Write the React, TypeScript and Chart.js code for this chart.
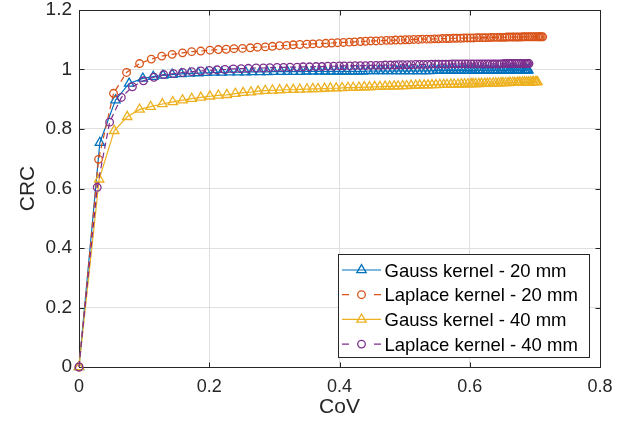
import React, { useEffect, useRef } from "react";
import { Chart, registerables } from "chart.js";

Chart.register(...registerables);

// ---------- data ----------
const seriesLabels = [
  "Gauss kernel - 20 mm",
  "Laplace kernel - 20 mm",
  "Gauss kernel - 40 mm",
  "Laplace kernel - 40 mm",
];

const xTicks = [0, 0.2, 0.4, 0.6, 0.8];
const yTicks = [0, 0.2, 0.4, 0.6, 0.8, 1, 1.2];

const gauss20CoV = [0, 0.032, 0.056, 0.077, 0.098, 0.114, 0.129, 0.143, 0.157, 0.170, 0.183, 0.196, 0.208, 0.219, 0.231, 0.244, 0.256, 0.266, 0.278, 0.289, 0.299, 0.310, 0.320, 0.329, 0.340, 0.349, 0.359, 0.369, 0.378, 0.387, 0.396, 0.404, 0.411, 0.420, 0.428, 0.436, 0.444, 0.452, 0.460, 0.467, 0.474, 0.481, 0.488, 0.494, 0.500, 0.507, 0.513, 0.520, 0.526, 0.532, 0.538, 0.544, 0.550, 0.554, 0.560, 0.565, 0.570, 0.575, 0.580, 0.585, 0.590, 0.595, 0.599, 0.604, 0.608, 0.613, 0.616, 0.620, 0.624, 0.628, 0.632, 0.636, 0.639, 0.643, 0.647, 0.650, 0.654, 0.657, 0.661, 0.663, 0.666, 0.669, 0.672, 0.675, 0.678, 0.681, 0.684, 0.686, 0.688, 0.689, 0.690];
const gauss20CRC = [0, 0.754, 0.897, 0.953, 0.970, 0.976, 0.980, 0.983, 0.985, 0.987, 0.988, 0.989, 0.990, 0.990, 0.991, 0.991, 0.991, 0.992, 0.992, 0.992, 0.993, 0.993, 0.993, 0.993, 0.993, 0.994, 0.994, 0.994, 0.994, 0.994, 0.994, 0.994, 0.994, 0.994, 0.994, 0.994, 0.995, 0.995, 0.995, 0.995, 0.995, 0.995, 0.995, 0.995, 0.995, 0.995, 0.995, 0.995, 0.995, 0.995, 0.995, 0.996, 0.996, 0.996, 0.996, 0.996, 0.996, 0.996, 0.996, 0.996, 0.996, 0.996, 0.996, 0.997, 0.997, 0.997, 0.997, 0.997, 0.997, 0.997, 0.997, 0.997, 0.997, 0.997, 0.997, 0.997, 0.997, 0.998, 0.998, 0.998, 0.998, 0.998, 0.998, 0.998, 0.998, 0.998, 0.998, 0.998, 0.998, 0.998, 0.998];

const laplace20CoV = [0, 0.030, 0.053, 0.073, 0.093, 0.111, 0.127, 0.143, 0.159, 0.173, 0.187, 0.201, 0.214, 0.226, 0.238, 0.251, 0.263, 0.274, 0.286, 0.297, 0.308, 0.319, 0.329, 0.339, 0.350, 0.359, 0.369, 0.379, 0.388, 0.397, 0.406, 0.415, 0.423, 0.432, 0.440, 0.448, 0.456, 0.464, 0.472, 0.479, 0.486, 0.494, 0.501, 0.507, 0.514, 0.521, 0.527, 0.534, 0.540, 0.546, 0.552, 0.558, 0.564, 0.569, 0.575, 0.580, 0.586, 0.591, 0.596, 0.601, 0.606, 0.611, 0.615, 0.620, 0.624, 0.629, 0.633, 0.637, 0.642, 0.646, 0.650, 0.654, 0.657, 0.661, 0.665, 0.668, 0.672, 0.675, 0.679, 0.682, 0.685, 0.689, 0.692, 0.695, 0.698, 0.701, 0.704, 0.706, 0.708, 0.710, 0.712];
const laplace20CRC = [0, 0.698, 0.920, 0.990, 1.020, 1.035, 1.045, 1.051, 1.056, 1.060, 1.062, 1.065, 1.067, 1.068, 1.070, 1.071, 1.073, 1.075, 1.076, 1.078, 1.080, 1.081, 1.083, 1.084, 1.085, 1.086, 1.087, 1.088, 1.089, 1.090, 1.091, 1.092, 1.093, 1.094, 1.095, 1.096, 1.096, 1.097, 1.098, 1.098, 1.099, 1.099, 1.100, 1.100, 1.101, 1.101, 1.102, 1.102, 1.102, 1.103, 1.103, 1.104, 1.104, 1.104, 1.105, 1.105, 1.105, 1.106, 1.106, 1.106, 1.106, 1.107, 1.107, 1.107, 1.107, 1.107, 1.108, 1.108, 1.108, 1.108, 1.108, 1.108, 1.109, 1.109, 1.109, 1.109, 1.109, 1.109, 1.109, 1.110, 1.110, 1.110, 1.110, 1.110, 1.110, 1.110, 1.110, 1.110, 1.110, 1.110, 1.110];

const gauss40CoV = [0, 0.031, 0.054, 0.074, 0.093, 0.110, 0.128, 0.144, 0.159, 0.173, 0.187, 0.201, 0.214, 0.227, 0.240, 0.252, 0.264, 0.275, 0.286, 0.297, 0.308, 0.319, 0.329, 0.339, 0.350, 0.359, 0.367, 0.377, 0.386, 0.395, 0.404, 0.413, 0.421, 0.430, 0.438, 0.446, 0.454, 0.462, 0.470, 0.477, 0.484, 0.490, 0.497, 0.503, 0.510, 0.517, 0.523, 0.530, 0.536, 0.542, 0.548, 0.554, 0.560, 0.565, 0.571, 0.576, 0.582, 0.587, 0.592, 0.597, 0.602, 0.605, 0.609, 0.614, 0.618, 0.623, 0.627, 0.631, 0.636, 0.640, 0.644, 0.648, 0.651, 0.655, 0.659, 0.662, 0.666, 0.669, 0.673, 0.674, 0.677, 0.681, 0.684, 0.687, 0.690, 0.693, 0.696, 0.698, 0.701, 0.702, 0.704];
const gauss40CRC = [0, 0.631, 0.794, 0.841, 0.866, 0.875, 0.884, 0.891, 0.897, 0.902, 0.906, 0.910, 0.913, 0.915, 0.919, 0.922, 0.924, 0.927, 0.929, 0.930, 0.931, 0.932, 0.932, 0.933, 0.934, 0.935, 0.935, 0.936, 0.937, 0.937, 0.938, 0.939, 0.939, 0.940, 0.941, 0.941, 0.942, 0.942, 0.943, 0.943, 0.944, 0.944, 0.945, 0.945, 0.946, 0.946, 0.947, 0.947, 0.947, 0.948, 0.948, 0.949, 0.949, 0.949, 0.950, 0.950, 0.950, 0.951, 0.951, 0.951, 0.952, 0.952, 0.952, 0.952, 0.953, 0.953, 0.953, 0.954, 0.954, 0.954, 0.954, 0.955, 0.955, 0.955, 0.955, 0.956, 0.956, 0.956, 0.956, 0.956, 0.957, 0.957, 0.957, 0.957, 0.957, 0.957, 0.958, 0.958, 0.958, 0.958, 0.958];

const laplace40CoV = [0, 0.028, 0.047, 0.065, 0.082, 0.099, 0.115, 0.130, 0.145, 0.159, 0.173, 0.187, 0.200, 0.212, 0.224, 0.237, 0.249, 0.260, 0.272, 0.283, 0.293, 0.304, 0.314, 0.324, 0.335, 0.344, 0.354, 0.364, 0.373, 0.382, 0.391, 0.400, 0.407, 0.416, 0.424, 0.432, 0.440, 0.448, 0.456, 0.463, 0.470, 0.478, 0.485, 0.491, 0.497, 0.504, 0.510, 0.517, 0.523, 0.529, 0.535, 0.541, 0.547, 0.552, 0.558, 0.563, 0.568, 0.573, 0.578, 0.583, 0.588, 0.593, 0.597, 0.602, 0.606, 0.611, 0.615, 0.619, 0.623, 0.627, 0.631, 0.635, 0.638, 0.642, 0.646, 0.649, 0.653, 0.656, 0.660, 0.662, 0.665, 0.669, 0.672, 0.675, 0.678, 0.681, 0.684, 0.686, 0.688, 0.689, 0.691];
const laplace40CRC = [0, 0.604, 0.823, 0.906, 0.942, 0.962, 0.974, 0.983, 0.986, 0.990, 0.993, 0.995, 0.997, 0.999, 1.000, 1.002, 1.003, 1.004, 1.005, 1.005, 1.006, 1.007, 1.007, 1.008, 1.008, 1.009, 1.009, 1.010, 1.010, 1.011, 1.011, 1.012, 1.012, 1.012, 1.013, 1.013, 1.013, 1.014, 1.014, 1.014, 1.015, 1.015, 1.015, 1.016, 1.016, 1.016, 1.016, 1.017, 1.017, 1.017, 1.017, 1.018, 1.018, 1.018, 1.018, 1.018, 1.018, 1.019, 1.019, 1.019, 1.019, 1.019, 1.019, 1.019, 1.019, 1.019, 1.019, 1.019, 1.019, 1.019, 1.019, 1.019, 1.019, 1.019, 1.019, 1.019, 1.020, 1.020, 1.020, 1.020, 1.020, 1.020, 1.020, 1.020, 1.020, 1.020, 1.020, 1.020, 1.020, 1.020, 1.020];

// ---------- styling ----------
const FONT = '"Liberation Sans", Arial, Helvetica, sans-serif';
const AXIS = "#262626";
const GRID = "#dfdfdf";
const COLORS = ["#0072BD", "#D95319", "#EDB120", "#7E2F8E"];
const STYLES = ["triangle", "circle", "triangle", "circle"];
const DASHED = [false, true, false, true];
const CIRCLE_R = 3.8;
const TRI_R = 5.4;

const toPoints = (xs: number[], ys: number[]) =>
  xs.slice(0, Math.min(xs.length, ys.length)).map((x, i) => ({ x, y: ys[i] }));

const fmt = (v: number) => String(Number(Number(v).toFixed(1)));

function drawMarker(ctx: CanvasRenderingContext2D, style: string, x: number, y: number) {
  ctx.beginPath();
  if (style === "circle") {
    ctx.arc(x, y, CIRCLE_R, 0, Math.PI * 2);
  } else {
    const r = TRI_R;
    ctx.moveTo(x, y - r);
    ctx.lineTo(x + r * Math.sin((2 * Math.PI) / 3), y - r * Math.cos((2 * Math.PI) / 3));
    ctx.lineTo(x + r * Math.sin((4 * Math.PI) / 3), y - r * Math.cos((4 * Math.PI) / 3));
    ctx.closePath();
  }
  ctx.stroke();
}

const framePlugin = {
  id: "matlabFrame",
  beforeDatasetsDraw(chart: any) {
    const { ctx, chartArea: a, scales } = chart;
    ctx.save();
    ctx.strokeStyle = AXIS;
    ctx.lineWidth = 1;
    const L = Math.round(a.left) + 0.5;
    const R = Math.round(a.right) + 0.5;
    const T = Math.round(a.top) + 0.5;
    const B = Math.round(a.bottom) + 0.5;
    ctx.strokeRect(L, T, R - L, B - T);
    const tl = 5;
    ctx.beginPath();
    for (const v of xTicks) {
      const px = Math.round(scales.x.getPixelForValue(v)) + 0.5;
      ctx.moveTo(px, B);
      ctx.lineTo(px, B - tl);
      ctx.moveTo(px, T);
      ctx.lineTo(px, T + tl);
    }
    for (const v of yTicks) {
      const py = Math.round(scales.y.getPixelForValue(v)) + 0.5;
      ctx.moveTo(L, py);
      ctx.lineTo(L + tl, py);
      ctx.moveTo(R, py);
      ctx.lineTo(R - tl, py);
    }
    ctx.stroke();
    ctx.restore();
  },
  afterDraw(chart: any) {
    const { ctx } = chart;
    ctx.save();
    const bx = 338.5, by = 254.5, bw = 251, bh = 103;
    ctx.fillStyle = "#ffffff";
    ctx.fillRect(bx, by, bw, bh);
    ctx.strokeStyle = AXIS;
    ctx.lineWidth = 1;
    ctx.strokeRect(bx, by, bw, bh);
    const fs = 18.5;
    ctx.font = `${fs}px ${FONT}`;
    ctx.textBaseline = "alphabetic";
    ctx.textAlign = "left";
    const rowStep = 24.7;
    chart.data.datasets.forEach((ds: any, i: number) => {
      const cy = 270 + i * rowStep;
      ctx.strokeStyle = ds.borderColor;
      ctx.lineWidth = 1.2;
      ctx.beginPath();
      if (DASHED[i]) {
        ctx.moveTo(342, cy); ctx.lineTo(349, cy);
        ctx.moveTo(374, cy); ctx.lineTo(381, cy);
      } else {
        ctx.moveTo(342, cy); ctx.lineTo(381, cy);
      }
      ctx.stroke();
      ctx.lineWidth = 1.3;
      drawMarker(ctx, STYLES[i], 361.5, cy);
      ctx.fillStyle = "#000000";
      ctx.fillText(ds.label, 384.5, cy + fs * 0.358);
    });
    ctx.restore();
  },
};

export default function App() {
  const ref = useRef<HTMLCanvasElement | null>(null);

  useEffect(() => {
    if (!ref.current) return;
    const xsList = [gauss20CoV, laplace20CoV, gauss40CoV, laplace40CoV];
    const ysList = [gauss20CRC, laplace20CRC, gauss40CRC, laplace40CRC];
    const datasets = seriesLabels.map((label, i) => ({
      label,
      data: toPoints(xsList[i], ysList[i]),
      borderColor: COLORS[i],
      backgroundColor: "rgba(0,0,0,0)",
      borderWidth: 1.2,
      borderDash: DASHED[i] ? [6, 4] : [],
      pointStyle: STYLES[i],
      pointRadius: STYLES[i] === "circle" ? CIRCLE_R : TRI_R,
      pointBorderWidth: 1.3,
      pointBorderColor: COLORS[i],
      pointBackgroundColor: "rgba(0,0,0,0)",
      fill: false,
      tension: 0,
      clip: false,
      order: 3 - i,
    }));

    const chart = new Chart(ref.current, {
      type: "line",
      data: { datasets },
      options: {
        animation: false,
        responsive: false,
        maintainAspectRatio: false,
        events: [],
        layout: { padding: { left: 0, right: 33, top: 10, bottom: 0 } },
        plugins: { legend: { display: false }, tooltip: { enabled: false } },
        scales: {
          x: {
            type: "linear",
            min: 0,
            max: 0.8,
            afterBuildTicks: (s: any) => { s.ticks = xTicks.map((v) => ({ value: v })); },
            afterFit: (s: any) => { s.height = 65; s.paddingLeft = 0; s.paddingRight = 0; },
            grid: { color: GRID, lineWidth: 1, drawTicks: false },
            border: { display: false },
            ticks: {
              font: { family: FONT, size: 18 },
              color: AXIS,
              padding: 9,
              maxRotation: 0,
              autoSkip: false,
              callback: (v: any) => fmt(v),
            },
            title: {
              display: true,
              text: "CoV",
              color: AXIS,
              font: { family: FONT, size: 21 },
              padding: { top: 0, bottom: 12 },
            },
          },
          y: {
            type: "linear",
            min: 0,
            max: 1.2,
            afterBuildTicks: (s: any) => { s.ticks = yTicks.map((v) => ({ value: v })); },
            afterFit: (s: any) => { s.width = 79; s.paddingTop = 0; s.paddingBottom = 0; },
            grid: { color: GRID, lineWidth: 1, drawTicks: false },
            border: { display: false },
            ticks: {
              font: { family: FONT, size: 19 },
              color: AXIS,
              padding: 7,
              autoSkip: false,
              callback: (v: any) => fmt(v),
            },
            title: {
              display: true,
              text: "CRC",
              color: AXIS,
              font: { family: FONT, size: 21 },
              padding: { top: 16, bottom: 0 },
            },
          },
        },
      },
      plugins: [framePlugin],
    } as any);

    return () => chart.destroy();
  }, []);

  return (
    <div style={{ position: "absolute", left: 0, top: 0, width: 633, height: 432, background: "#fff" }}>
      <canvas ref={ref} width={633} height={432} style={{ display: "block", width: 633, height: 432 }} />
    </div>
  );
}
